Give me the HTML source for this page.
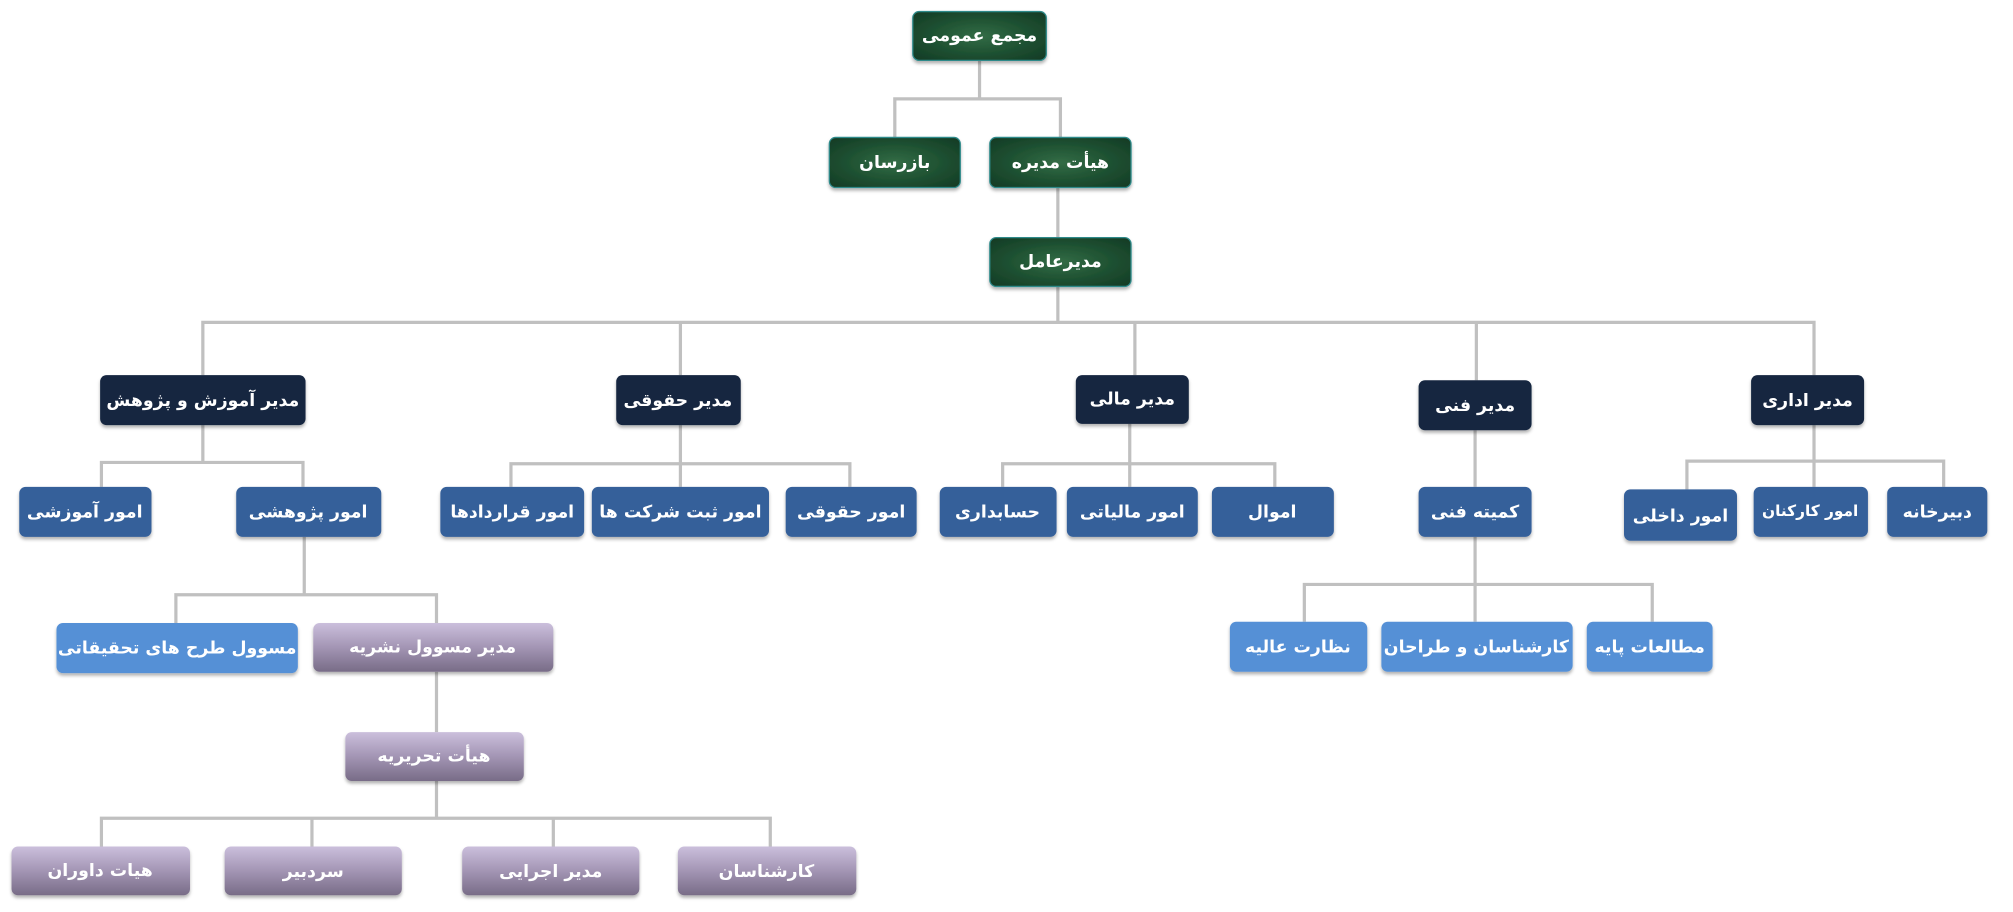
<!DOCTYPE html>
<html><head><meta charset="utf-8"><style>
html,body{margin:0;padding:0;background:#fff;}
svg{display:block;}
text{font-family:"DejaVu Sans",sans-serif;font-weight:bold;fill:#fff;text-anchor:middle;dominant-baseline:central;direction:rtl;unicode-bidi:embed;}
</style></head><body>
<svg width="2013" height="912" viewBox="0 0 1568 710" preserveAspectRatio="none" xmlns="http://www.w3.org/2000/svg">
<defs>
<radialGradient id="g" cx="50%" cy="50%" r="70%">
<stop offset="0" stop-color="#336c46"/><stop offset="0.5" stop-color="#1f5232"/><stop offset="1" stop-color="#133a25"/>
</radialGradient>
<linearGradient id="p" x1="0" y1="0" x2="0" y2="1">
<stop offset="0" stop-color="#cbbfdc"/><stop offset="0.5" stop-color="#a395b4"/><stop offset="1" stop-color="#786c87"/>
</linearGradient>
<filter id="s" x="-10%" y="-10%" width="120%" height="140%"><feDropShadow dx="0" dy="2" stdDeviation="1.2" flood-color="#000" flood-opacity="0.3"/></filter>
</defs>
<g stroke="#c0c0c0" stroke-width="2.5" fill="none">
<path d="M763 47V77M697 107V77H826V107"/>
<path d="M824 146V185"/>
<path d="M824 223V251M158 292V251H1413V292M530 251V292M884 251V292M1150 251V296"/>
<path d="M158 331V360M79 379V360H236V379"/>
<path d="M530 331V361M398 379V361H662V379M530 361V379"/>
<path d="M880 330V361M781 379V361H993V379M880 361V379"/>
<path d="M1149 335V379"/>
<path d="M1413 331V359M1314 381V359H1514V379M1413 359V379"/>
<path d="M1149 418V455M1016 484V455H1287V484M1149 455V484"/>
<path d="M237 418V463M137 485V463H340V485"/>
<path d="M340 523V570"/>
<path d="M340 608V637M79 659V637H600V659M243 637V659M431 637V659"/>
</g>
<g filter="url(#s)">
<g fill="url(#g)" stroke="#2f8a8a" stroke-width="1">
<rect x="711" y="9" width="104" height="38" rx="5"/>
<rect x="646" y="107" width="102" height="39" rx="5"/>
<rect x="771" y="107" width="110" height="39" rx="5"/>
<rect x="771" y="185" width="110" height="38" rx="5"/>
</g>
<g fill="#13253f">
<rect x="78" y="292" width="160" height="39" rx="5"/>
<rect x="480" y="292" width="97" height="39" rx="5"/>
<rect x="838" y="292" width="88" height="38" rx="5"/>
<rect x="1105" y="296" width="88" height="39" rx="5"/>
<rect x="1364" y="292" width="88" height="39" rx="5"/>
</g>
<g fill="#36609a">
<rect x="15" y="379" width="103" height="39" rx="5"/>
<rect x="184" y="379" width="113" height="39" rx="5"/>
<rect x="343" y="379" width="112" height="39" rx="5"/>
<rect x="461" y="379" width="138" height="39" rx="5"/>
<rect x="612" y="379" width="102" height="39" rx="5"/>
<rect x="732" y="379" width="91" height="39" rx="5"/>
<rect x="831" y="379" width="102" height="39" rx="5"/>
<rect x="944" y="379" width="95" height="39" rx="5"/>
<rect x="1105" y="379" width="88" height="39" rx="5"/>
<rect x="1265" y="381" width="88" height="40" rx="5"/>
<rect x="1366" y="379" width="89" height="39" rx="5"/>
<rect x="1470" y="379" width="78" height="39" rx="5"/>
</g>
<g fill="#5590d6">
<rect x="44" y="485" width="188" height="39" rx="5"/>
<rect x="958" y="484" width="107" height="39" rx="5"/>
<rect x="1076" y="484" width="149" height="39" rx="5"/>
<rect x="1236" y="484" width="98" height="39" rx="5"/>
</g>
<g fill="url(#p)">
<rect x="244" y="485" width="187" height="38" rx="5"/>
<rect x="269" y="570" width="139" height="38" rx="5"/>
<rect x="9" y="659" width="139" height="38" rx="5"/>
<rect x="175" y="659" width="138" height="38" rx="5"/>
<rect x="360" y="659" width="138" height="38" rx="5"/>
<rect x="528" y="659" width="139" height="38" rx="5"/>
</g>
</g>
<g font-size="13.5">
<text x="763" y="28">مجمع عمومی</text>
<text x="697" y="127">بازرسان</text>
<text x="826" y="127">هیأت مدیره</text>
<text x="826" y="204">مدیرعامل</text>
<text x="158" y="312">مدیر آموزش و پژوهش</text>
<text x="528" y="312">مدیر حقوقی</text>
<text x="882" y="311">مدیر مالی</text>
<text x="1149" y="316">مدیر فنی</text>
<text x="1408" y="312">مدیر اداری</text>
<text x="66" y="399">امور آموزشی</text>
<text x="240" y="399">امور پژوهشی</text>
<text x="399" y="399">امور قراردادها</text>
<text x="530" y="399">امور ثبت شرکت ها</text>
<text x="663" y="399">امور حقوقی</text>
<text x="777" y="399">حسابداری</text>
<text x="882" y="399">امور مالیاتی</text>
<text x="991" y="399">اموال</text>
<text x="1149" y="399">کمیته فنی</text>
<text x="1309" y="402">امور داخلی</text>
<text x="1410" y="398" font-size="12">امور کارکنان</text>
<text x="1509" y="399">دبیرخانه</text>
<text x="138" y="505">مسوول طرح های تحقیقاتی</text>
<text x="1011" y="504">نظارت عالیه</text>
<text x="1150" y="504">کارشناسان و طراحان</text>
<text x="1285" y="504">مطالعات پایه</text>
<text x="337" y="504">مدیر مسوول نشریه</text>
<text x="338" y="589">هیأت تحریریه</text>
<text x="78" y="678">هیات داوران</text>
<text x="244" y="679">سردبیر</text>
<text x="429" y="679">مدیر اجرایی</text>
<text x="597" y="679">کارشناسان</text>
</g>
</svg>
</body></html>
